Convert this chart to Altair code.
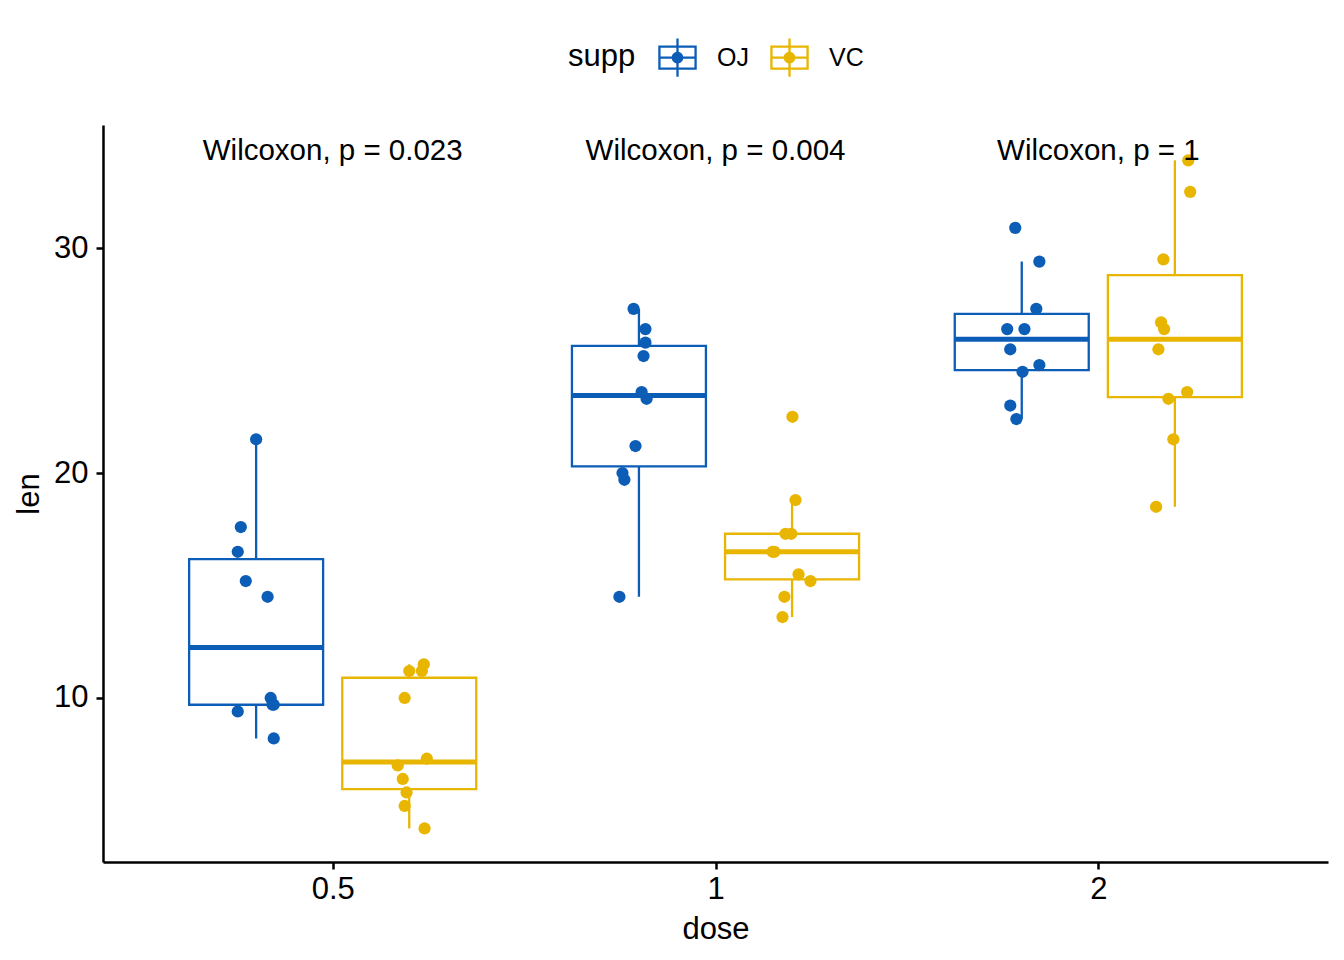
import altair as alt
import pandas as pd

# ToothGrowth-style data
doses = ["0.5", "1", "2"]
supps = ["OJ", "VC"]

len_OJ_05 = [15.2, 21.5, 17.6, 9.7, 14.5, 10.0, 8.2, 9.4, 16.5, 9.7]
len_OJ_1 = [19.7, 23.3, 23.6, 26.4, 20.0, 25.2, 25.8, 21.2, 14.5, 27.3]
len_OJ_2 = [25.5, 26.4, 22.4, 24.5, 24.8, 30.9, 26.4, 27.3, 29.4, 23.0]
len_VC_05 = [4.2, 11.5, 7.3, 5.8, 6.4, 10.0, 11.2, 11.2, 5.2, 7.0]
len_VC_1 = [16.5, 16.5, 15.2, 17.3, 22.5, 17.3, 13.6, 14.5, 18.8, 15.5]
len_VC_2 = [23.6, 18.5, 33.9, 25.5, 26.4, 32.5, 26.7, 21.5, 23.3, 29.5]

# horizontal jitter (in dose-category units)
jit_OJ_05 = [-0.027, 0.000, -0.040, 0.046, 0.030, 0.038, 0.046, -0.048, -0.048, 0.043]
jit_OJ_1 = [-0.038, 0.020, 0.007, 0.017, -0.043, 0.012, 0.017, -0.009, -0.051, -0.014]
jit_OJ_2 = [-0.030, -0.038, -0.014, 0.002, 0.046, -0.017, 0.007, 0.038, 0.046, -0.030]
jit_VC_05 = [0.040, 0.038, 0.046, -0.007, -0.017, -0.012, 0.000, 0.033, -0.012, -0.030]
jit_VC_1 = [-0.051, -0.046, 0.048, -0.017, 0.001, -0.002, -0.025, -0.020, 0.009, 0.017]
jit_VC_2 = [0.032, -0.049, 0.035, -0.043, -0.028, 0.040, -0.036, -0.004, -0.017, -0.030]

stat_labels = ["Wilcoxon, p = 0.023", "Wilcoxon, p = 0.004", "Wilcoxon, p = 1"]
stat_y = [34.3, 34.3, 34.3]

groups = [
    ("OJ", "0.5", len_OJ_05, jit_OJ_05),
    ("OJ", "1", len_OJ_1, jit_OJ_1),
    ("OJ", "2", len_OJ_2, jit_OJ_2),
    ("VC", "0.5", len_VC_05, jit_VC_05),
    ("VC", "1", len_VC_1, jit_VC_1),
    ("VC", "2", len_VC_2, jit_VC_2),
]
rows = []
for s, d, vals, jits in groups:
    for v, j in zip(vals, jits):
        rows.append({"supp": s, "dose": d, "len": v, "jit": j})
df = pd.DataFrame(rows)

lab_df = pd.DataFrame({"dose": doses, "label": stat_labels, "y": stat_y})

BLUE = "#0C5DB6"
GOLD = "#E8B600"
FONT = "Liberation Sans"

xscale = alt.Scale(domain=[0.4, 3.6], nice=False, zero=False)
yscale = alt.Scale(domain=[2.71, 35.47], nice=False, zero=False)
cscale = alt.Scale(domain=supps, range=[BLUE, GOLD])

key_path = (
    "M-1,-0.63 L1,-0.63 L1,0.63 L-1,0.63 Z "
    "M-0.88,-0.51 L-0.88,0.51 L0.88,0.51 L0.88,-0.51 Z "
    "M-0.88,-0.06 L0.88,-0.06 L0.88,0.06 L-0.88,0.06 Z "
    "M-0.06,-1 L0.06,-1 L0.06,1 L-0.06,1 Z "
    "M0.3,0 A0.3,0.3 0 1,1 -0.3,0 A0.3,0.3 0 1,1 0.3,0 Z"
)

legend = alt.Legend(
    orient="none", legendX=465, legendY=-87, direction="horizontal",
    title="supp", titleOrient="left", titleFontSize=31, titleFontWeight="normal",
    titleFont=FONT, titleColor="black", titlePadding=22, titleBaseline="middle",
    labelFontSize=25, labelFont=FONT, labelColor="black", labelOffset=20,
    symbolType=key_path, symbolSize=1480, symbolStrokeWidth=0, symbolOpacity=1,
    columnPadding=21,
)

color_enc = alt.Color("supp:N", scale=cscale, legend=legend)

base = alt.Chart(df).transform_calculate(
    di="indexof(['0.5','1','2'], datum.dose) + 1"
).transform_calculate(
    xc="datum.di + (datum.supp === 'OJ' ? -0.2 : 0.2)"
)

xaxis = alt.Axis(values=[1, 2, 3], labelExpr="['0.5','1','2'][datum.value - 1]",
                 title="dose", grid=False)
yaxis = alt.Axis(values=[10, 20, 30], title="len", grid=False)

stats = base.transform_aggregate(
    q1="q1(len)", q3="q3(len)", med="median(len)", groupby=["supp", "dose", "xc"]
).transform_calculate(xl="datum.xc - 0.175", xr="datum.xc + 0.175")

boxes = stats.mark_rect(filled=False, strokeWidth=2.3).encode(
    x=alt.X("xl:Q", scale=xscale, axis=xaxis),
    x2="xr:Q",
    y=alt.Y("q1:Q", scale=yscale, axis=yaxis),
    y2="q3:Q",
    color=color_enc,
)

medians = stats.mark_rule(strokeWidth=5).encode(
    x=alt.X("xl:Q", scale=xscale),
    x2="xr:Q",
    y=alt.Y("med:Q", scale=yscale),
    color=color_enc,
)

wh = base.transform_joinaggregate(
    q1="q1(len)", q3="q3(len)", groupby=["supp", "dose"]
).transform_calculate(
    lo="datum.q1 - 1.5 * (datum.q3 - datum.q1)",
    hi="datum.q3 + 1.5 * (datum.q3 - datum.q1)",
).transform_filter(
    "datum.len >= datum.lo && datum.len <= datum.hi"
).transform_aggregate(
    wmin="min(len)", wmax="max(len)", groupby=["supp", "dose", "xc", "q1", "q3"]
)

whisk_lo = wh.mark_rule(strokeWidth=2.3).encode(
    x=alt.X("xc:Q", scale=xscale),
    y=alt.Y("wmin:Q", scale=yscale),
    y2="q1:Q",
    color=color_enc,
)
whisk_hi = wh.mark_rule(strokeWidth=2.3).encode(
    x=alt.X("xc:Q", scale=xscale),
    y=alt.Y("q3:Q", scale=yscale),
    y2="wmax:Q",
    color=color_enc,
)

points = base.transform_calculate(xp="datum.xc + datum.jit").mark_circle(
    size=150, opacity=1
).encode(
    x=alt.X("xp:Q", scale=xscale),
    y=alt.Y("len:Q", scale=yscale),
    color=color_enc,
)

texts = alt.Chart(lab_df).transform_calculate(
    di="indexof(['0.5','1','2'], datum.dose) + 1"
).mark_text(fontSize=29.5, font=FONT, color="black", baseline="middle").encode(
    x=alt.X("di:Q", scale=xscale),
    y=alt.Y("y:Q", scale=yscale),
    text="label:N",
)

chart = alt.layer(whisk_lo, whisk_hi, boxes, medians, points, texts).properties(
    width=1225, height=737,
    autosize=alt.AutoSizeParams(type="none"),
    padding={"left": 95, "top": 117, "right": 8, "bottom": 90},
).configure_view(stroke=None).configure_axis(
    domainColor="black", domainWidth=2.5, tickColor="black", tickWidth=2.5,
    tickSize=7, labelFontSize=31, labelFont=FONT, labelColor="black",
    titleFontSize=31, titleFont=FONT, titleFontWeight="normal", titleColor="black",
).configure_axisX(labelPadding=5, titlePadding=10).configure_axisY(
    labelPadding=8, titlePadding=8
)

chart.save("out.html", embed_options={"renderer": "svg", "actions": False})
